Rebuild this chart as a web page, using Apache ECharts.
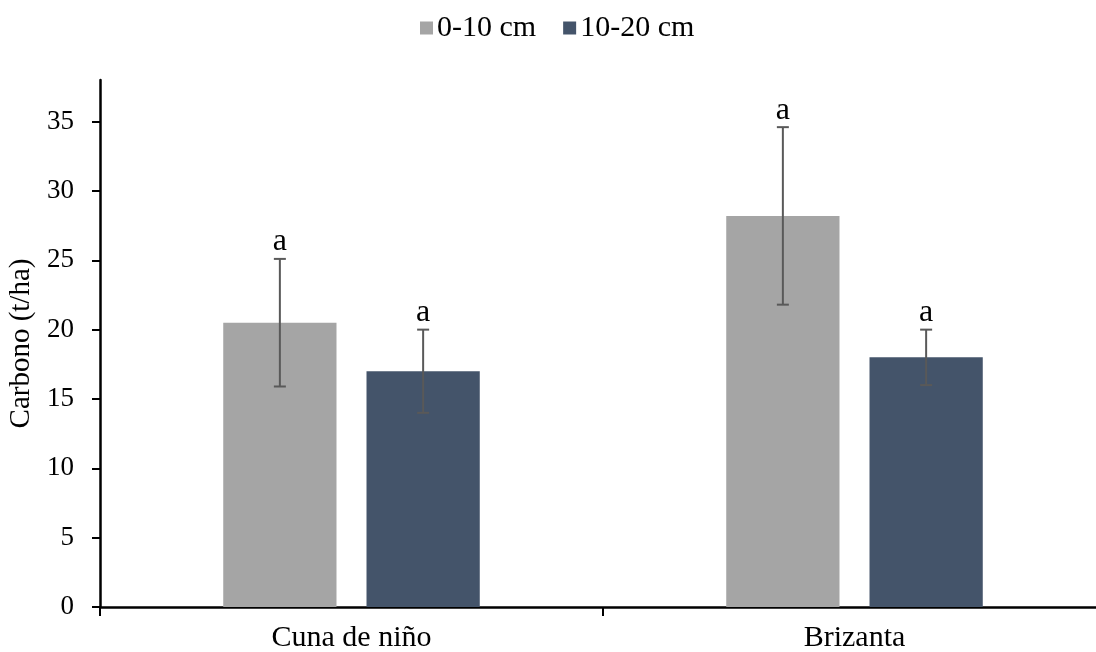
<!DOCTYPE html>
<html>
<head>
<meta charset="utf-8">
<script src="https://cdn.jsdelivr.net/npm/echarts@6/dist/echarts.min.js"></script>
<style>
  html, body { margin: 0; padding: 0; background: #ffffff; }
  #chart { width: 1096px; height: 652px; }
</style>
</head>
<body>
<div id="chart"></div>
<script>
// Soil carbon stock by pasture and depth
const categories = ['Cuna de niño', 'Brizanta'];
const seriesNames = ['0-10 cm', '10-20 cm'];
const shallow = [20.5, 28.2];
const shallowErr = [4.6, 6.4];
const deep = [17.0, 18.0];
const deepErr = [3.0, 2.0];
const shallowLetters = ['a', 'a'];
const deepLetters = ['a', 'a'];
const yTicks = [0, 5, 10, 15, 20, 25, 30, 35];

const colors = ['#A5A5A5', '#44546A'];
const FONT = '"Liberation Serif", "DejaVu Serif", serif';
const CAT_GAP = 0.49;
const BAR_GAP = 0.265;

// Error bar + significance letter drawn through the axes' own coordinates
function errorSeries(values, errors, letters, side) {
  return {
    type: 'custom',
    name: seriesNames[side < 0 ? 0 : 1] + ' err',
    data: values.map((v, i) => [i, v, errors[i], letters[i]]),
    z: 10,
    silent: true,
    renderItem: function (params, api) {
      const idx = api.value(0);
      const v = api.value(1);
      const e = api.value(2);
      const band = api.size([1, 0])[0];
      const w = band * (1 - CAT_GAP) / (2 + BAR_GAP);
      const dx = side * (w + w * BAR_GAP) / 2;
      const hi = api.coord([idx, v + e]);
      const lo = api.coord([idx, v - e]);
      const x = hi[0] + dx;
      const cap = 6;
      const st = { stroke: '#595959', lineWidth: 2 };
      return {
        type: 'group',
        children: [
          { type: 'line', shape: { x1: x, y1: hi[1], x2: x, y2: lo[1] }, style: st },
          { type: 'line', shape: { x1: x - cap, y1: hi[1], x2: x + cap, y2: hi[1] }, style: st },
          { type: 'line', shape: { x1: x - cap, y1: lo[1], x2: x + cap, y2: lo[1] }, style: st },
          {
            type: 'text',
            style: {
              text: api.value(3),
              x: x,
              y: hi[1] - 1,
              textAlign: 'center',
              textVerticalAlign: 'bottom',
              font: '32px ' + FONT,
              fill: '#000000'
            }
          }
        ]
      };
    }
  };
}

const chart = echarts.init(document.getElementById('chart'));
chart.setOption({
  animation: false,
  backgroundColor: '#ffffff',
  color: colors,
  legend: {
    data: seriesNames,
    top: 8,
    left: 415,
    itemWidth: 13,
    itemHeight: 13,
    itemGap: 27,
    icon: 'rect',
    textStyle: { fontFamily: FONT, fontSize: 30, color: '#000000', padding: [0, 0, 0, -1] }
  },
  grid: { left: 100, right: -10, top: 80, bottom: 45, containLabel: false, outerBoundsMode: 'none' },
  xAxis: {
    type: 'category',
    data: categories,
    axisLine: { lineStyle: { color: '#000000', width: 2.5 } },
    axisTick: { show: true, length: 9, lineStyle: { color: '#000000', width: 2 } },
    axisLabel: { fontFamily: FONT, fontSize: 30, color: '#000000', margin: 16 }
  },
  yAxis: {
    type: 'value',
    min: 0,
    max: 38,
    interval: 5,
    name: 'Carbono (t/ha)',
    nameLocation: 'middle',
    nameGap: 63,
    nameRotate: 90,
    nameTextStyle: { fontFamily: FONT, fontSize: 29, color: '#000000' },
    splitLine: { show: false },
    axisLine: { show: true, lineStyle: { color: '#000000', width: 2.5 } },
    axisTick: { show: true, inside: false, length: 8, customValues: yTicks, lineStyle: { color: '#000000', width: 2 } },
    axisLabel: { fontFamily: FONT, fontSize: 27, color: '#000000', margin: 26, customValues: yTicks }
  },
  series: [
    {
      name: seriesNames[0],
      type: 'bar',
      data: shallow,
      barCategoryGap: (CAT_GAP * 100) + '%',
      barGap: (BAR_GAP * 100) + '%',
      itemStyle: { color: colors[0] }
    },
    {
      name: seriesNames[1],
      type: 'bar',
      data: deep,
      barCategoryGap: (CAT_GAP * 100) + '%',
      barGap: (BAR_GAP * 100) + '%',
      itemStyle: { color: colors[1] }
    },
    errorSeries(shallow, shallowErr, shallowLetters, -1),
    errorSeries(deep, deepErr, deepLetters, 1)
  ]
});
</script>
</body>
</html>
